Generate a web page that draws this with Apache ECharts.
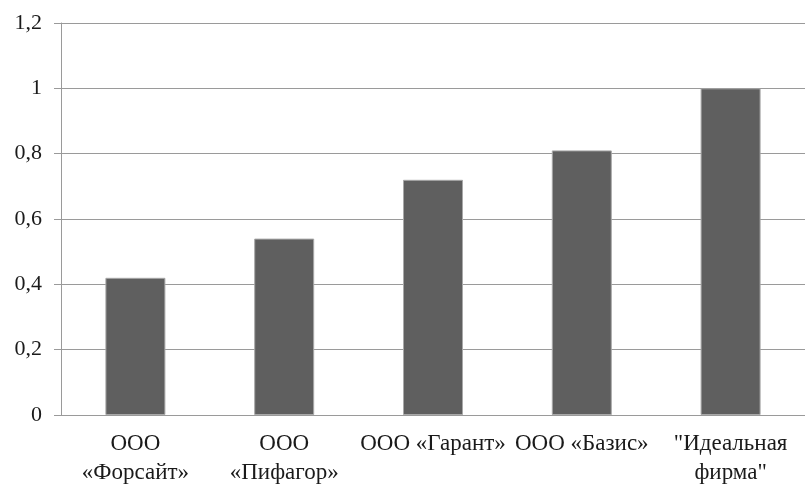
<!DOCTYPE html>
<html>
<head>
<meta charset="utf-8">
<script src="https://cdn.jsdelivr.net/npm/echarts@6/dist/echarts.min.js"></script>
<style>
  html, body { margin: 0; padding: 0; background: #fff; }
  #chart { width: 805px; height: 487px; }
</style>
</head>
<body>
<div id="chart"></div>
<script>
// Firms compared and their integral scores
const categories = ['ООО\n«Форсайт»', 'ООО\n«Пифагор»', 'ООО «Гарант»', 'ООО «Базис»', '"Идеальная\nфирма"'];
const scores = [0.42, 0.54, 0.72, 0.81, 1.0];
const yMin = 0;
const yMax = 1.2;
const yStep = 0.2;

const font = 'Liberation Serif, Times New Roman, serif';
const chart = echarts.init(document.getElementById('chart'), null, { renderer: 'canvas' });

chart.setOption({
  animation: false,
  backgroundColor: '#ffffff',
  grid: { left: 61, top: 23, width: 754, height: 397, containLabel: false },
  xAxis: {
    type: 'category',
    data: categories,
    boundaryGap: true,
    axisLine: { show: true, lineStyle: { color: '#9a9a9a', width: 1 } },
    axisTick: { show: false },
    axisLabel: {
      interval: 0,
      margin: 14,
      fontFamily: font,
      fontSize: 23,
      lineHeight: 29,
      color: '#1a1a1a'
    },
    splitLine: { show: false }
  },
  yAxis: {
    type: 'value',
    min: yMin,
    max: yMax,
    interval: yStep,
    axisLine: { show: true, lineStyle: { color: '#9a9a9a', width: 1 } },
    axisTick: { show: true, length: 7, lineStyle: { color: '#9a9a9a', width: 1 } },
    axisLabel: {
      margin: 19,
      fontFamily: font,
      fontSize: 22,
      color: '#1a1a1a',
      formatter: v => String(Math.round(v * 10) / 10).replace('.', ',')
    },
    splitLine: { show: true, lineStyle: { color: '#9a9a9a', width: 1 } }
  },
  series: [{
    type: 'bar',
    data: scores,
    barWidth: 60,
    itemStyle: { color: '#5f5f5f', borderColor: '#a8a8a8', borderWidth: 1 },
    label: { show: false }
  }]
});
</script>
</body>
</html>
